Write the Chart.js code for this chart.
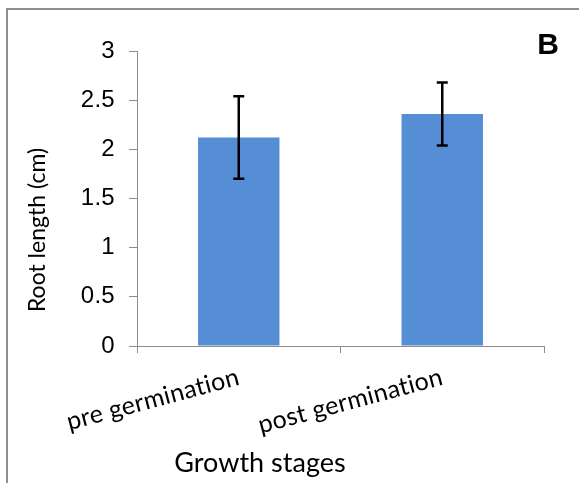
<!DOCTYPE html>
<html lang="en">
<head>
  <meta charset="UTF-8">
  <title>Root length by growth stage</title>
  <script src="https://cdn.jsdelivr.net/npm/chart.js"></script>
  <style>
    html, body { margin: 0; padding: 0; background: #fff; }
    #wrap { width: 579px; height: 483px; }
  </style>
</head>
<body>
  <div id="wrap"><canvas id="rootChart" width="579" height="483"></canvas></div>

  <script>
    const stages = ['pre germination', 'post germination'];
    const rootLength = [2.12, 2.36];
    const rootError = [0.42, 0.32];
    const yTicks = [0, 0.5, 1, 1.5, 2, 2.5, 3];

    const axisGrey = '#8c8c8c';

    // frame, panel letter, axis titles and error bars
    const extras = {
      id: 'extras',
      beforeDraw(chart) {
        const ctx = chart.ctx;
        // a little letter spacing keeps Lato from joining "ti"
        ctx.letterSpacing = '0.3px';
        ctx.save();
        ctx.strokeStyle = '#8e8e8e';
        ctx.lineWidth = 2;
        ctx.beginPath();
        ctx.moveTo(7, 483);
        ctx.lineTo(7, 9);
        ctx.lineTo(579, 9);
        ctx.stroke();
        ctx.restore();
      },
      afterDatasetsDraw(chart) {
        const ctx = chart.ctx;
        const y = chart.scales.y;
        const bars = chart.getDatasetMeta(0).data;
        ctx.save();
        ctx.strokeStyle = '#000';
        ctx.lineWidth = 2.5;
        bars.forEach((bar, i) => {
          const top = y.getPixelForValue(rootLength[i] + rootError[i]);
          const bot = y.getPixelForValue(rootLength[i] - rootError[i]);
          ctx.beginPath();
          ctx.moveTo(bar.x, top);
          ctx.lineTo(bar.x, bot);
          ctx.moveTo(bar.x - 5.5, top);
          ctx.lineTo(bar.x + 5.5, top);
          ctx.moveTo(bar.x - 5.5, bot);
          ctx.lineTo(bar.x + 5.5, bot);
          ctx.stroke();
        });
        ctx.restore();
      },
      afterDraw(chart) {
        const ctx = chart.ctx;
        ctx.save();
        ctx.fillStyle = '#000';
        ctx.letterSpacing = '0px';
        ctx.font = 'bold 30px "Liberation Sans", Arial, sans-serif';
        ctx.textAlign = 'center';
        ctx.textBaseline = 'middle';
        ctx.fillText('B', 548, 46);

        ctx.font = '27px Lato, "Open Sans", sans-serif';
        ctx.fillText('Growth stages', 260, 463);

        ctx.translate(38, 230);
        ctx.rotate(-Math.PI / 2);
        ctx.font = '23px Lato, "Open Sans", sans-serif';
        ctx.fillText('Root length (cm)', 0, 0);
        ctx.restore();
      }
    };

    new Chart(document.getElementById('rootChart'), {
      type: 'bar',
      data: {
        labels: stages,
        datasets: [{
          data: rootLength,
          backgroundColor: '#558ed5',
          borderWidth: 0,
          categoryPercentage: 1,
          barPercentage: 0.4
        }]
      },
      options: {
        responsive: false,
        animation: false,
        events: [],
        layout: { padding: { left: 0, right: 35, top: 51, bottom: 0 } },
        plugins: {
          legend: { display: false },
          tooltip: { enabled: false }
        },
        scales: {
          x: {
            afterFit(scale) { scale.height = 137; },
            grid: {
              offset: true,
              drawOnChartArea: false,
              color: axisGrey,
              tickLength: 7
            },
            border: { color: axisGrey, width: 1 },
            ticks: {
              color: '#000',
              minRotation: 15,
              maxRotation: 15,
              padding: 9,
              font: { family: 'Lato, "Open Sans", sans-serif', size: 25 }
            }
          },
          y: {
            min: 0,
            max: 3,
            afterFit(scale) { scale.width = 137; },
            afterBuildTicks(scale) {
              scale.ticks = yTicks.map(v => ({ value: v }));
            },
            grid: {
              drawOnChartArea: false,
              color: axisGrey,
              tickLength: 8
            },
            border: { color: axisGrey, width: 1 },
            ticks: {
              color: '#000',
              padding: 14,
              callback: v => String(v),
              font: { family: '"Liberation Sans", Arial, sans-serif', size: 24 }
            }
          }
        }
      },
      plugins: [extras]
    });
  </script>
</body>
</html>
